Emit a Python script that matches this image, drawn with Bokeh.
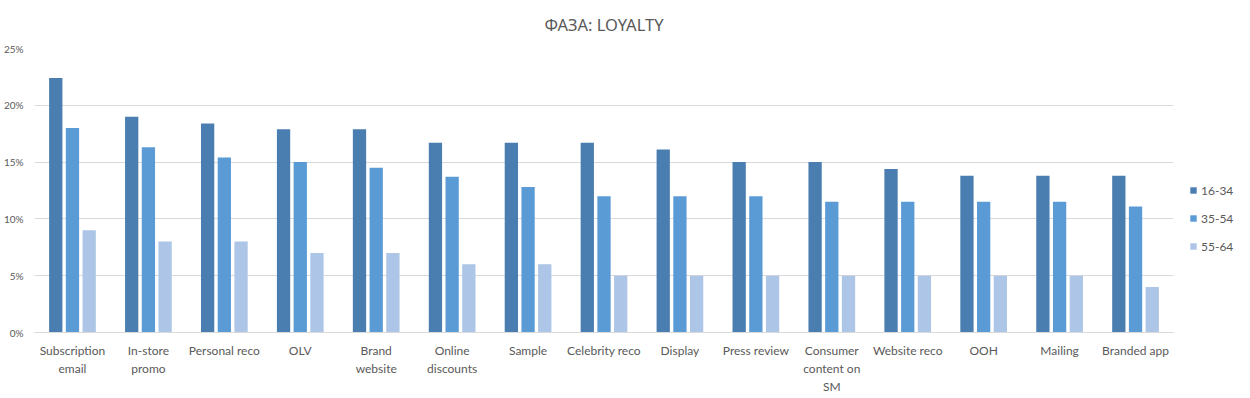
from bokeh.plotting import figure
from bokeh.models import ColumnDataSource, FactorRange, Legend, LegendItem, PrintfTickFormatter, FixedTicker
from bokeh.transform import dodge
from bokeh.embed import file_html
from bokeh.resources import INLINE

title_text = "ФАЗА: LOYALTY"
categories = ["Subscription\nemail", "In-store\npromo", "Personal reco", "OLV", "Brand\nwebsite",
              "Online\ndiscounts", "Sample", "Celebrity reco", "Display", "Press review",
              "Consumer\ncontent on\nSM", "Website reco", "OOH", "Mailing", "Branded app"]
series_names = ["16-34", "35-54", "55-64"]
v_16_34 = [22.4, 19.0, 18.4, 17.9, 17.9, 16.7, 16.7, 16.7, 16.1, 15.0, 15.0, 14.4, 13.8, 13.8, 13.8]
v_35_54 = [18.0, 16.3, 15.4, 15.0, 14.5, 13.7, 12.8, 12.0, 12.0, 12.0, 11.5, 11.5, 11.5, 11.5, 11.1]
v_55_64 = [9.0, 8.0, 8.0, 7.0, 7.0, 6.0, 6.0, 5.0, 5.0, 5.0, 5.0, 5.0, 5.0, 5.0, 4.0]
y_ticks = [0, 5, 10, 15, 20, 25]

colors = ["#4a7eb0", "#5b9bd5", "#adc5e6"]
FONT = "Lato"

src = ColumnDataSource(dict(cat=categories, a=v_16_34, b=v_35_54, c=v_55_64))

p = figure(x_range=FactorRange(*categories, range_padding=0), y_range=(0, 25),
           frame_width=1139, frame_height=284, output_backend="svg", toolbar_location=None,
           min_border_left=20, min_border_right=0, min_border_top=48, min_border_bottom=50)

p.title.text = title_text
p.title.align = "center"
p.title.vertical_align = "top"
p.title.text_font = "Noto Sans"
p.title.text_font_style = "normal"
p.title.text_font_size = "16.5px"
p.title.text_color = "#595959"
p.title.standoff = 22
p.title.offset = 21

renderers = []
for key, off, col in zip(["a", "b", "c"], [-0.22, 0.0, 0.22], colors):
    r = p.vbar(x=dodge("cat", off, range=p.x_range), top=key, width=0.175, source=src,
               fill_color=col, line_color=None)
    renderers.append(r)

p.outline_line_color = None
p.xgrid.grid_line_color = None
p.ygrid.grid_line_color = "#d9d9d9"
p.ygrid.ticker = FixedTicker(ticks=y_ticks)

p.yaxis.ticker = FixedTicker(ticks=y_ticks)
p.yaxis.formatter = PrintfTickFormatter(format="%d%%")
p.yaxis.axis_line_color = None
p.yaxis.major_tick_line_color = None
p.yaxis.minor_tick_line_color = None
p.yaxis.major_label_text_font = FONT
p.yaxis.major_label_text_font_size = "10px"
p.yaxis.major_label_text_color = "#595959"
p.yaxis.major_label_standoff = 5

p.xaxis.axis_line_color = "#d9d9d9"
p.xaxis.major_tick_line_color = None
p.xaxis.minor_tick_line_color = None
p.xaxis.major_label_text_font = FONT
p.xaxis.major_label_text_font_size = "12px"
p.xaxis.major_label_text_color = "#595959"
p.xaxis.major_label_standoff = 4

legend = Legend(items=[LegendItem(label=n, renderers=[r]) for n, r in zip(series_names, renderers)],
                location=(16, 78))
legend.border_line_color = None
legend.background_fill_alpha = 0
legend.padding = 14
legend.margin = 0
legend.glyph_width = 8
legend.glyph_height = 8
legend.label_height = 16
legend.spacing = 12
legend.label_standoff = 4
legend.label_text_font = FONT
legend.label_text_font_size = "12px"
legend.label_text_color = "#595959"
p.add_layout(legend, "right")

open("out.html", "w").write(file_html(p, INLINE))
